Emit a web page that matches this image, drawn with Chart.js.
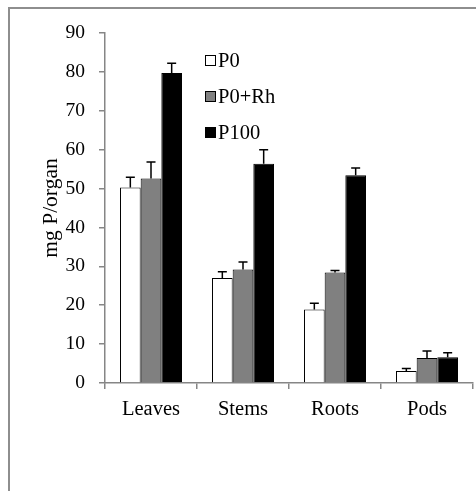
<!DOCTYPE html>
<html>
<head>
<meta charset="utf-8">
<script src="https://cdn.jsdelivr.net/npm/chart.js@4.4.0/dist/chart.umd.min.js"></script>
<style>
  html, body { margin: 0; padding: 0; background: #fff; }
  #wrap { width: 476px; height: 491px; }
</style>
</head>
<body>
<div id="wrap"><canvas id="chart1" width="476" height="491"></canvas></div>
<script>
const categories = ["Leaves", "Stems", "Roots", "Pods"];
const seriesNames = ["P0", "P0+Rh", "P100"];
const p0 = [50.3, 27.0, 18.9, 3.1];
const p0Err = [2.6, 1.6, 1.6, 0.6];
const p0Rh = [52.6, 29.2, 28.4, 6.4];
const p0RhErr = [4.2, 1.9, 0.5, 1.8];
const p100 = [79.7, 56.4, 53.4, 6.6];
const p100Err = [2.5, 3.6, 1.9, 1.2];
const yTicks = [0, 10, 20, 30, 40, 50, 60, 70, 80, 90];

const serif = "'Liberation Serif', 'Times New Roman', serif";
const axisGrey = '#868686';

// error bars, upward only, drawn from each bar's top
const errorBars = {
    id: 'errorBars',
    afterDatasetsDraw(chart) {
        const { ctx, scales: { y } } = chart;
        ctx.save();
        ctx.strokeStyle = '#000';
        ctx.lineWidth = 1.5;
        chart.data.datasets.forEach((ds, i) => {
            const meta = chart.getDatasetMeta(i);
            meta.data.forEach((bar, j) => {
                const top = y.getPixelForValue(ds.data[j] + ds.errors[j]);
                ctx.beginPath();
                ctx.moveTo(bar.x, bar.y);
                ctx.lineTo(bar.x, top);
                ctx.moveTo(bar.x - 4.5, top);
                ctx.lineTo(bar.x + 4.5, top);
                ctx.stroke();
            });
        });
        ctx.restore();
    }
};

// legend inside the plot, small squares with text
const boxLegend = {
    id: 'boxLegend',
    afterDraw(chart) {
        const { ctx } = chart;
        ctx.save();
        ctx.font = '20.5px ' + serif;
        ctx.textBaseline = 'middle';
        chart.data.datasets.forEach((ds, i) => {
            const cy = 60.5 + i * 36;
            ctx.fillStyle = ds.backgroundColor;
            ctx.fillRect(205.5, cy - 5, 10, 10);
            ctx.strokeStyle = '#000';
            ctx.lineWidth = 1;
            ctx.strokeRect(205.5, cy - 5, 10, 10);
            ctx.fillStyle = '#000';
            ctx.fillText(ds.label, 218, cy + 1);
        });
        ctx.restore();
    }
};

// grey frame on left and top edges
const frame = {
    id: 'frame',
    beforeDraw(chart) {
        const { ctx, width, height } = chart;
        ctx.save();
        ctx.fillStyle = '#fff';
        ctx.fillRect(0, 0, width, height);
        ctx.strokeStyle = '#8e8e8e';
        ctx.lineWidth = 2;
        ctx.beginPath();
        ctx.moveTo(9, height);
        ctx.lineTo(9, 8);
        ctx.lineTo(width, 8);
        ctx.stroke();
        ctx.restore();
    }
};

const ctx = document.getElementById('chart1').getContext('2d');
new Chart(ctx, {
    type: 'bar',
    data: {
        labels: categories,
        datasets: [
            { label: seriesNames[0], data: p0, errors: p0Err, backgroundColor: '#ffffff' },
            { label: seriesNames[1], data: p0Rh, errors: p0RhErr, backgroundColor: '#808080' },
            { label: seriesNames[2], data: p100, errors: p100Err, backgroundColor: '#000000' }
        ].map(d => Object.assign(d, {
            borderColor: '#000',
            borderWidth: 1,
            borderSkipped: 'bottom',
            categoryPercentage: 0.674,
            barPercentage: 1.0
        }))
    },
    options: {
        responsive: false,
        animation: false,
        devicePixelRatio: 1,
        layout: { padding: { left: 38, top: 33, right: 3, bottom: 0 } },
        plugins: {
            legend: { display: false },
            tooltip: { enabled: false }
        },
        scales: {
            x: {
                offset: true,
                grid: {
                    offset: true,
                    drawOnChartArea: false,
                    drawTicks: true,
                    tickLength: 6,
                    color: axisGrey,
                    lineWidth: 1.5
                },
                border: { color: axisGrey, width: 1.5 },
                ticks: {
                    color: '#000',
                    padding: 8,
                    font: { family: serif, size: 20.5 }
                },
                afterFit: (scale) => { scale.height = 108; }
            },
            y: {
                min: 0,
                max: 90,
                afterBuildTicks: (scale) => { scale.ticks = yTicks.map(v => ({ value: v })); },
                grid: {
                    drawOnChartArea: false,
                    drawTicks: true,
                    tickLength: 6,
                    color: axisGrey,
                    lineWidth: 1.5
                },
                border: { color: axisGrey, width: 1.5 },
                ticks: {
                    color: '#000',
                    padding: 14,
                    font: { family: serif, size: 19.5 }
                },
                title: {
                    display: true,
                    text: 'mg P/organ',
                    color: '#000',
                    padding: { top: 0, bottom: 0 },
                    font: { family: serif, size: 21.5 }
                },
                afterFit: (scale) => { scale.width = 67; }
            }
        }
    },
    plugins: [frame, errorBars, boxLegend]
});
</script>
</body>
</html>
